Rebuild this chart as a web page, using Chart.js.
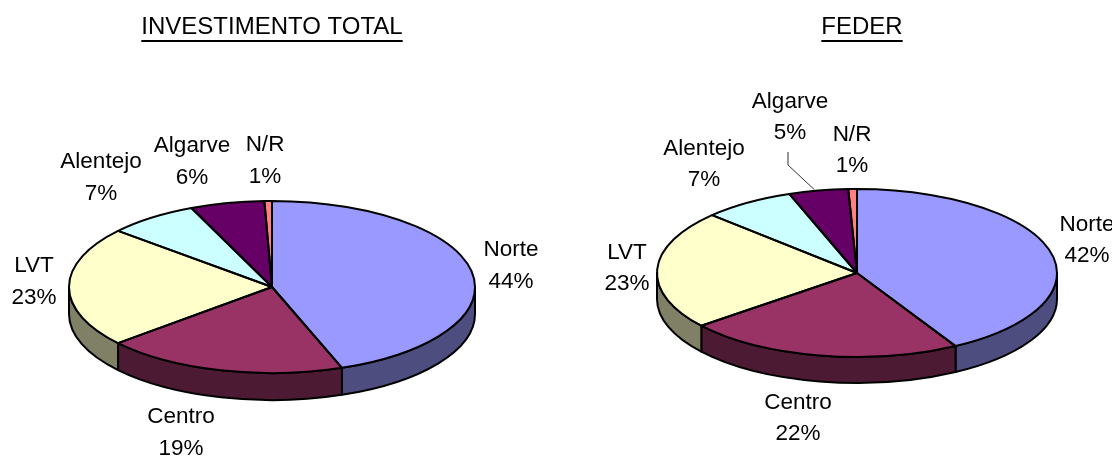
<!DOCTYPE html>
<html>
<head>
<meta charset="utf-8">
<script src="https://cdn.jsdelivr.net/npm/chart.js@4/dist/chart.umd.min.js"></script>
<style>
  html, body { margin: 0; padding: 0; background: #ffffff; overflow: hidden; width: 1112px; height: 456px; }
  canvas { position: absolute; top: 0; }
  #c1 { left: 0; }
  #c2 { left: 556px; }
</style>
</head>
<body>
<canvas id="c1" width="556" height="574" style="width:556px;height:574px"></canvas>
<canvas id="c2" width="556" height="546" style="width:556px;height:546px"></canvas>
<script>
// ---- data ----
const categories = ['Norte', 'Centro', 'LVT', 'Alentejo', 'Algarve', 'N/R'];
const totalValues = [44.4, 19.3, 22.6, 7.2, 5.9, 0.6];   // INVESTIMENTO TOTAL (%)
const federValues = [41.8, 22.4, 22.9, 7.4, 4.8, 0.7];   // FEDER (%)
const chartTitles = ['INVESTIMENTO TOTAL', 'FEDER'];

// ---- styles ----
const topColors  = ['#9999FF', '#993366', '#FFFFCC', '#CCFFFF', '#660066', '#FF8080'];
const sideColors = ['#4D4D80', '#4D1A33', '#808066', '#668080', '#330033', '#804040'];
const FONT = '"Liberation Sans", Arial, Helvetica, sans-serif';

const pie3d = {
  id: 'pie3d',
  beforeDatasetsDraw(chart, args, o) {
    const ctx = chart.ctx;
    const arcs = chart.getDatasetMeta(0).data;
    const {x, y, outerRadius: r} = arcs[0];
    const ry = r * o.tilt, d = o.depth;
    ctx.save();
    ctx.lineWidth = o.lineWidth;
    ctx.strokeStyle = '#000';
    ctx.lineJoin = 'round';
    arcs.forEach((a, i) => {
      const s = Math.max(a.startAngle, 0), e = Math.min(a.endAngle, Math.PI);
      if (e <= s) return;
      ctx.beginPath();
      ctx.ellipse(x, y, r, ry, 0, s, e);
      ctx.ellipse(x, y + d, r, ry, 0, e, s, true);
      ctx.closePath();
      ctx.fillStyle = o.sideColors[i];
      ctx.fill();
      ctx.stroke();
    });
    ctx.restore();
    ctx.save();
    ctx.translate(x, y);
    ctx.scale(1, o.tilt);
    ctx.translate(-x, -y);
  },
  afterDatasetsDraw(chart, args, o) {
    const ctx = chart.ctx;
    ctx.restore();
    const arcs = chart.getDatasetMeta(0).data;
    const {x, y, outerRadius: r} = arcs[0];
    const ry = r * o.tilt;
    ctx.save();
    ctx.lineWidth = o.lineWidth;
    ctx.strokeStyle = '#000';
    ctx.lineJoin = 'round';
    arcs.forEach(a => {
      ctx.beginPath();
      ctx.moveTo(x, y);
      ctx.ellipse(x, y, r, ry, 0, a.startAngle, a.endAngle);
      ctx.closePath();
      ctx.stroke();
    });
    ctx.restore();
  },
  afterDraw(chart, args, o) {
    const ctx = chart.ctx;
    const arcs = chart.getDatasetMeta(0).data;
    const {x, y, outerRadius: r} = arcs[0];
    const ry = r * o.tilt;
    const values = chart.data.datasets[0].data;
    const sum = values.reduce((p, v) => p + v, 0);
    ctx.save();
    ctx.fillStyle = '#000';
    // title
    ctx.font = '24px ' + FONT;
    ctx.textAlign = 'center';
    ctx.textBaseline = 'alphabetic';
    ctx.fillText(o.title, o.titleX, o.titleY);
    const tw = ctx.measureText(o.title).width;
    ctx.fillRect(o.titleX - tw / 2, o.titleY + 6, tw, 2);
    // labels
    ctx.font = o.labelFont + 'px ' + FONT;
    chart.data.labels.forEach((lab, i) => {
      const p = o.labelPos[i];
      ctx.fillText(lab, p[0], p[1]);
      ctx.fillText(Math.round(values[i] / sum * 100) + '%', p[0], p[1] + o.lineGap);
    });
    // leader lines
    (o.leaders || []).forEach(i => {
      const a = arcs[i];
      const m = (a.startAngle + a.endAngle) / 2;
      const p = o.labelPos[i];
      const lx = p[0] - 2, ly = p[1] + o.lineGap + 13;
      ctx.beginPath();
      ctx.strokeStyle = '#333';
      ctx.lineWidth = 1;
      ctx.moveTo(lx, ly);
      ctx.lineTo(lx, ly + 13);
      ctx.lineTo(x + r * Math.cos(m) - 4, y + ry * Math.sin(m) - 1);
      ctx.stroke();
    });
    ctx.restore();
  }
};

function makePie(id, values, title, padding, pieOpts) {
  new Chart(document.getElementById(id), {
    type: 'pie',
    data: {
      labels: categories,
      datasets: [{
        data: values,
        backgroundColor: topColors,
        borderWidth: 0,
        hoverOffset: 0,
        offset: 0,
        clip: false
      }]
    },
    options: {
      responsive: false,
      animation: false,
      events: [],
      devicePixelRatio: 1,
      layout: { padding: padding },
      plugins: {
        legend: { display: false },
        tooltip: { enabled: false },
        pie3d: Object.assign({ title: title, sideColors: sideColors, lineWidth: 2, labelFont: 22.5, lineGap: 32 }, pieOpts)
      }
    },
    plugins: [pie3d]
  });
}

makePie('c1', totalValues, chartTitles[0],
  { left: 69, right: 81, top: 84, bottom: 84 },
  { tilt: 0.424, depth: 27, titleX: 272, titleY: 34,
    labelPos: [[511, 256], [181, 423], [34, 272], [101, 168], [192, 152], [265, 151]] });

makePie('c2', federValues, chartTitles[1],
  { left: 101, right: 55, top: 73, bottom: 73 },
  { tilt: 0.42, depth: 26, titleX: 306, titleY: 34, lineGap: 31,
    labelPos: [[531, 231], [242, 409], [71, 259], [148, 155], [234, 108], [296, 141]],
    leaders: [4] });
</script>
</body>
</html>
